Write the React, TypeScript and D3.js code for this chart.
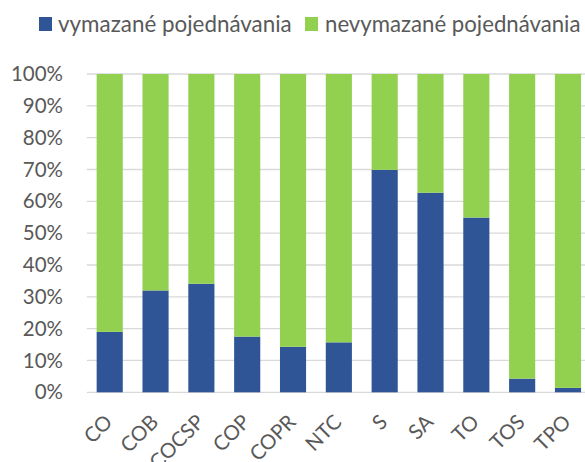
import React from "react";
import * as d3 from "d3";

const categories = ["CO", "COB", "COCSP", "COP", "COPR", "NTC", "S", "SA", "TO", "TOS", "TPO"];
const deleted = [19.0, 32.0, 34.1, 17.5, 14.3, 15.7, 69.9, 62.7, 54.9, 4.3, 1.4];
const notDeleted = deleted.map((v) => 100 - v);
const seriesNames = ["vymazané pojednávania", "nevymazané pojednávania"];
const yTicks = [0, 10, 20, 30, 40, 50, 60, 70, 80, 90, 100];

const W = 585;
const H = 462;
const BLUE = "#2F5597";
const GREEN = "#92D050";
const GRID = "#D9D9D9";
const TEXT = "#595959";
const FONT = "Lato, 'Open Sans', sans-serif";

export default function App() {
  const left = 86.8;
  const right = 590.9;
  const top = 74;
  const bottom = 392.3;

  const x = d3.scaleBand<string>().domain(categories).range([left, right]).paddingInner(0.43).paddingOuter(0.215);
  const y = d3.scaleLinear().domain([0, 100]).range([bottom, top]);

  const rows = categories.map((c, i) => ({ cat: c, del: deleted[i], nd: notDeleted[i] }));
  const stack = d3.stack<any>().keys(["del", "nd"])(rows);
  const colors = [BLUE, GREEN];

  return (
    <div style={{ position: "absolute", left: 0, top: 0 }}>
      <svg width={W} height={H} style={{ display: "block" }} fontFamily={FONT}>
        <rect width={W} height={H} fill="#fff" />
        {yTicks.map((t) => (
          <g key={t}>
            <line x1={left} x2={right} y1={y(t)} y2={y(t)} stroke={GRID} strokeWidth={1.3} />
            <text x={63} y={y(t)} dy="0.35em" textAnchor="end" fontSize={20.5} fill={TEXT}>
              {t}%
            </text>
          </g>
        ))}
        {stack.map((s, si) =>
          s.map((d, i) => (
            <rect
              key={si + "-" + i}
              x={x(categories[i])}
              width={x.bandwidth()}
              y={y(d[1])}
              height={y(d[0]) - y(d[1])}
              fill={colors[si]}
            />
          ))
        )}
        {categories.map((c) => {
          const cx = (x(c) as number) + x.bandwidth() / 2 + 4;
          const cy = bottom + 31;
          return (
            <text
              key={c}
              transform={`translate(${cx},${cy}) rotate(-45)`}
              textAnchor="end"
              fontSize={20.5}
              fill={TEXT}
            >
              {c}
            </text>
          );
        })}
        <g>
          <rect x={39} y={17} width={13} height={14} fill={BLUE} />
          <text x={58} y={24} dy="0.35em" fontSize={22.4} fill={TEXT}>
            {seriesNames[0]}
          </text>
          <rect x={305} y={17} width={13} height={14} fill={GREEN} />
          <text x={325} y={24} dy="0.35em" fontSize={22.2} fill={TEXT}>
            {seriesNames[1]}
          </text>
        </g>
      </svg>
    </div>
  );
}
